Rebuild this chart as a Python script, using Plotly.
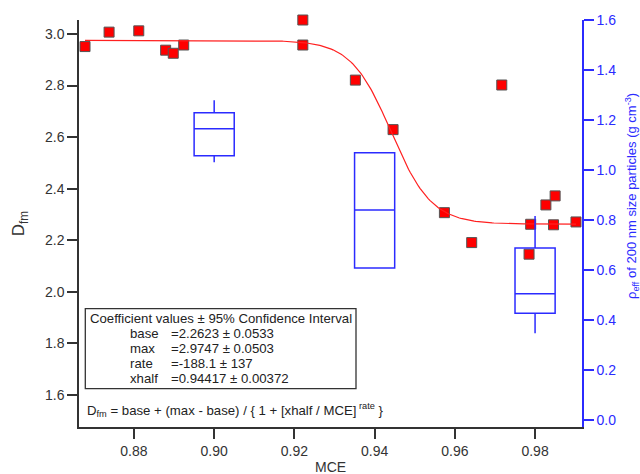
import numpy as np
import plotly.graph_objects as go

# Measured points (MCE vs D_fm)
mce = [0.8678, 0.8738, 0.8812, 0.8879, 0.8898, 0.8924, 0.9221, 0.9221,
       0.9352, 0.9446, 0.9717, 0.9574, 0.9642, 0.9789, 0.9827, 0.9850,
       0.9846, 0.9902, 0.9785]
dfm = [2.951, 3.007, 3.012, 2.937, 2.925, 2.957, 3.054, 2.957,
       2.821, 2.629, 2.802, 2.307, 2.191, 2.262, 2.337, 2.372,
       2.260, 2.271, 2.146]

# Sigmoid fit coefficients
fit_base = 2.2623
fit_max = 2.9747
fit_rate = -188.1
fit_xhalf = 0.94417

# Box statistics for effective density (right axis)
box_x = [0.90, 0.94, 0.98]
box_lower = [1.031, 0.608, 0.347]
box_q1 = [1.057, 0.608, 0.427]
box_median = [1.165, 0.840, 0.505]
box_q3 = [1.229, 1.069, 0.688]
box_upper = [1.279, 1.069, 0.816]

coef_labels = ["base", "max", "rate", "xhalf"]
coef_values = ["=2.2623 ± 0.0533", "=2.9747 ± 0.0503", "=-188.1 ± 137", "=0.94417 ± 0.00372"]

FONT = "Arial, Liberation Sans, sans-serif"
AX = "#333333"
BLUE = "#2b2bff"

fx = np.linspace(min(mce), max(mce), 300)
fy = fit_base + (fit_max - fit_base) / (1 + (fit_xhalf / fx) ** fit_rate)

fig = go.Figure()
fig.add_trace(go.Scatter(x=mce, y=dfm, mode="markers", cliponaxis=False,
                         marker=dict(symbol="square", size=10, color="#ff0000",
                                     line=dict(color="#555555", width=1)),
                         showlegend=False))
fig.add_trace(go.Scatter(x=fx, y=fy, mode="lines",
                         line=dict(color="#ff2020", width=1.2), showlegend=False))
fig.add_trace(go.Box(
    x=box_x, q1=box_q1, median=box_median, q3=box_q3,
    lowerfence=box_lower, upperfence=box_upper,
    width=0.01, whiskerwidth=0, yaxis="y2",
    line=dict(color=BLUE, width=1.5), fillcolor="rgba(0,0,0,0)",
    boxpoints=False, hoverinfo="skip", showlegend=False))

W, H = 640, 474
L, R, T, B = 79, 58, 20, 47
pw, ph = W - L - R, H - T - B

def px(x):
    return (x - L) / pw

def py(y):
    return (H - B - y) / ph

fig.add_shape(type="rect", xref="paper", yref="paper",
              x0=px(85.3), x1=px(356), y0=py(388.7), y1=py(308.7),
              line=dict(color=AX, width=1.3))
ann = [dict(x=px(88), y=py(318.7), text="Coefficient values ± 95% Confidence Interval")]
for i, (lab, val) in enumerate(zip(coef_labels, coef_values)):
    yy = py(333.7 + 15 * i)
    ann.append(dict(x=px(128.3), y=yy, text=lab))
    ann.append(dict(x=px(169), y=yy, text=val))
ann.append(dict(x=px(85), y=py(409.7),
                text="D<sub>fm</sub> = base + (max - base) / { 1 + [xhalf / MCE]<sup> rate</sup> }"))
for a in ann:
    a.update(xref="paper", yref="paper", xanchor="left", yanchor="middle",
             showarrow=False, font=dict(family=FONT, size=13.2, color="#222222"))
ann.append(dict(xref="paper", yref="paper", x=px(632), y=py(196), xanchor="center",
                yanchor="middle", textangle=-90, showarrow=False,
                text="ρ<sub>eff</sub> of 200 nm size particles (g cm<sup>-3</sup>)",
                font=dict(family=FONT, size=13, color=BLUE)))
ann.append(dict(xref="paper", yref="paper", x=0.5, y=py(467), xanchor="center",
                yanchor="middle", showarrow=False, text="MCE",
                font=dict(family=FONT, size=14, color=AX)))
fig.update_layout(annotations=ann)

fig.update_layout(
    width=W, height=H, margin=dict(l=L, r=R, t=T, b=B),
    paper_bgcolor="white", plot_bgcolor="white",
    font=dict(family=FONT, size=14, color=AX),
    xaxis=dict(range=[0.8663, 0.9917], tickvals=[0.88, 0.90, 0.92, 0.94, 0.96, 0.98],
               tickformat=".2f", showline=True, linecolor=AX, linewidth=1.5,
               ticks="outside", ticklen=10, tickcolor=AX, tickwidth=1.5, showgrid=False,
               zeroline=False, automargin=False),
    yaxis=dict(range=[1.476, 3.054], dtick=0.2, tick0=0, tickformat=".1f",
               showline=True, linecolor=AX, linewidth=1.5, ticks="outside", ticklen=10,
               tickcolor=AX, tickwidth=1.5, showgrid=False, zeroline=False, automargin=False,
               title=dict(text="D<sub>fm</sub>", standoff=16)),
    yaxis2=dict(range=[-0.028, 1.6], dtick=0.2, tick0=0, tickformat=".1f",
                overlaying="y", side="right", showline=True, linecolor=BLUE, linewidth=1.5,
                ticks="outside", ticklen=10, tickcolor=BLUE, tickwidth=1.5,
                tickfont=dict(color=BLUE), showgrid=False, zeroline=False, automargin=False),
)

fig.write_html("out.html", config={"displayModeBar": False},
               post_script="document.body.style.margin='0';document.body.style.overflow='hidden';")
